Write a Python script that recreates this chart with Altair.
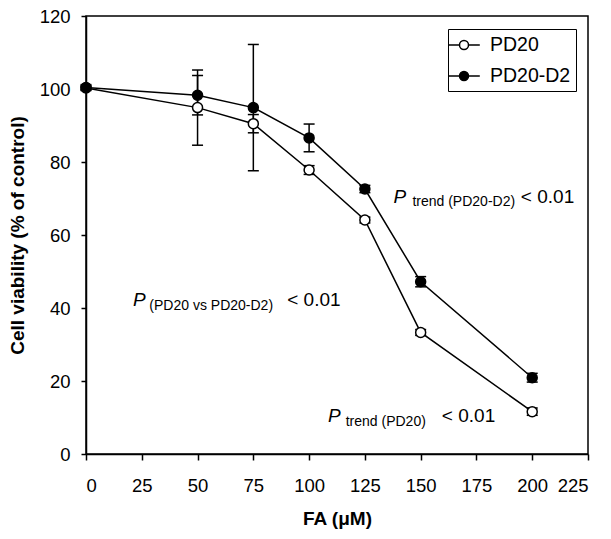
import altair as alt
import pandas as pd

# ---- data ----
fa = [0, 50, 75, 100, 125, 150, 200]
series_names = ["PD20", "PD20-D2"]
pd20 = [100.3, 94.9, 90.5, 77.8, 64.1, 33.3, 11.6]
pd20_err = [0.5, 10.3, 2.5, 1.2, 0.8, 0.8, 1.0]
pd20d2 = [100.4, 98.3, 94.9, 86.6, 72.6, 47.2, 20.9]
pd20d2_err = [0.8, 5.4, 17.3, 3.8, 1.0, 1.4, 1.2]
x_ticks = [0, 25, 50, 75, 100, 125, 150, 175, 200, 225]
y_ticks = [0, 20, 40, 60, 80, 100, 120]

# annotations (P + subscript + "< 0.01")
ann_sub = ["(PD20 vs PD20-D2)", "trend (PD20-D2)", "trend (PD20)"]
ann_y = [40.5, 68.8, 8.7]
ann_x_p = [21.1, 137.8, 108.5]
ann_x_sub = [28.4, 146.3, 116.4]
ann_x_rest = [90.2, 194.9, 159.5]

FONT = "Liberation Sans"

rows = []
for name, ys, es in [(series_names[0], pd20, pd20_err), (series_names[1], pd20d2, pd20d2_err)]:
    for x, y, e in zip(fa, ys, es):
        rows.append({"series": name, "fa": x, "v": y, "lo": y - e, "hi": y + e})
df = pd.DataFrame(rows)

ann = pd.DataFrame({
    "sub": ann_sub, "y": ann_y, "xp": ann_x_p, "xs": ann_x_sub, "xr": ann_x_rest,
    "P": ["P"] * 3, "rest": ["< 0.01"] * 3,
})

xscale = alt.Scale(domain=[0, 225], nice=False, zero=False)
yscale = alt.Scale(domain=[0, 120], nice=False)

xaxis = alt.Axis(values=x_ticks, format="d", title="FA (\u03bcM)", labelPadding=16,
                 titlePadding=15, tickSize=6)
yaxis = alt.Axis(values=y_ticks, format="d", title="Cell viability (% of control)",
                 labelPadding=11, titlePadding=12, tickSize=5)

base = alt.Chart(df)

rules = base.mark_rule(color="black", strokeWidth=1.5).encode(
    x=alt.X("fa:Q", scale=xscale, axis=xaxis),
    y=alt.Y("lo:Q", scale=yscale, axis=yaxis),
    y2="hi:Q",
)
cap_lo = base.mark_tick(orient="horizontal", color="black", thickness=1.5, size=11, opacity=1).encode(
    x=alt.X("fa:Q", scale=xscale), y=alt.Y("lo:Q", scale=yscale))
cap_hi = base.mark_tick(orient="horizontal", color="black", thickness=1.5, size=11, opacity=1).encode(
    x=alt.X("fa:Q", scale=xscale), y=alt.Y("hi:Q", scale=yscale))

lines = base.mark_line(color="black", strokeWidth=1.5).encode(
    x=alt.X("fa:Q", scale=xscale), y=alt.Y("v:Q", scale=yscale), detail="series:N")

# legend glyph: line with a circle in the middle (symmetric about its centre)
legend_symbol = ("M-1.58,0L-0.45,0M0.45,0L1.58,0"
                 "M-0.45,0A0.45,0.45,0,1,1,0.45,0A0.45,0.45,0,1,1,-0.45,0Z")

points = base.mark_point(shape="circle", filled=True, stroke="black", strokeWidth=1.5,
                         size=100, opacity=1).encode(
    x=alt.X("fa:Q", scale=xscale),
    y=alt.Y("v:Q", scale=yscale),
    fill=alt.Fill("series:N", scale=alt.Scale(domain=series_names, range=["white", "black"]),
                  legend=alt.Legend(title=None, orient="none", legendX=362, legendY=13,
                                    symbolType=legend_symbol, symbolSize=400,
                                    symbolStrokeColor="black", symbolStrokeWidth=1.5,
                                    symbolOpacity=1, labelFont=FONT, labelFontSize=19.5,
                                    labelColor="black", labelOffset=15, rowPadding=10,
                                    padding=5, strokeColor="black")),
)

annb = alt.Chart(ann)
t_p = annb.mark_text(align="left", baseline="alphabetic", font=FONT, fontSize=19,
                     fontStyle="italic", color="black").encode(
    x=alt.X("xp:Q", scale=xscale), y=alt.Y("y:Q", scale=yscale), text="P:N")
t_s = annb.mark_text(align="left", baseline="alphabetic", font=FONT, fontSize=14,
                     dy=3.5, color="black").encode(
    x=alt.X("xs:Q", scale=xscale), y=alt.Y("y:Q", scale=yscale), text="sub:N")
t_r = annb.mark_text(align="left", baseline="alphabetic", font=FONT, fontSize=19,
                     color="black").encode(
    x=alt.X("xr:Q", scale=xscale), y=alt.Y("y:Q", scale=yscale), text="rest:N")

chart = alt.layer(rules, cap_lo, cap_hi, lines, points, t_p, t_s, t_r).properties(
    width=502, height=438,
    autosize=alt.AutoSizeParams(type="none"),
    padding={"left": 78, "top": 8, "right": 15, "bottom": 77},
    background="white",
).configure_view(
    stroke="black", strokeWidth=1.5
).configure_axis(
    grid=False, domainColor="black", domainWidth=1.5, tickColor="black", tickWidth=1.5,
    labelColor="black", labelFont=FONT, labelFontSize=18.5,
    titleColor="black", titleFont=FONT, titleFontSize=19, titleFontWeight="bold",
)

chart.save("out.html", embed_options={"renderer": "svg", "actions": False})
